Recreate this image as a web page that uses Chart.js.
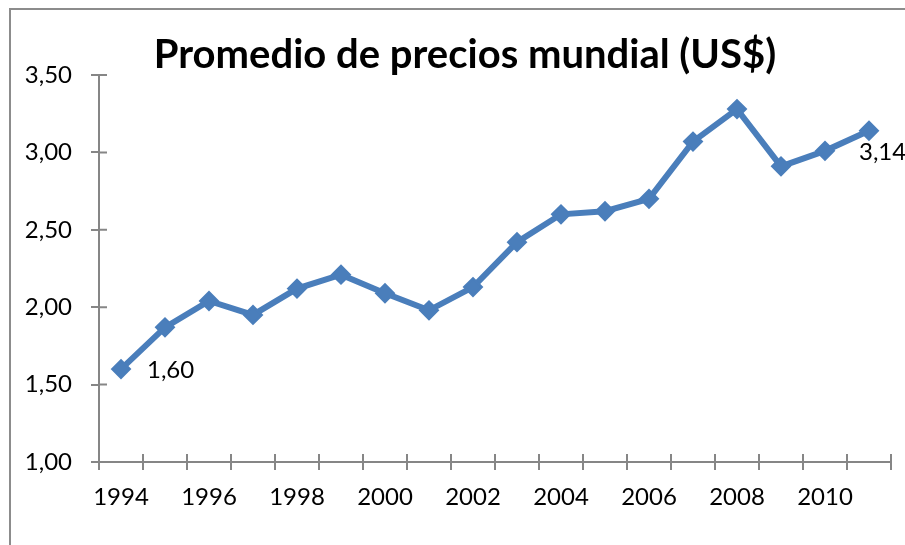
<!DOCTYPE html>
<html>
<head>
<meta charset="utf-8">
<script src="https://cdn.jsdelivr.net/npm/chart.js@4"></script>
<style>
    body { margin: 0; background: #fff; }
    #wrap { position: relative; width: 905px; height: 545px; overflow: hidden; }
    #frame { position: absolute; left: 9px; top: 8px; width: 1000px; height: 1000px; border: 2px solid #8c8c8c; box-sizing: border-box; }
    canvas { position: absolute; left: 0; top: 0; }
</style>
</head>
<body>
<div id="wrap">
    <div id="frame"></div>
    <canvas id="precioChart" width="905" height="545"></canvas>
</div>
<script>
const years = ['1994', '1995', '1996', '1997', '1998', '1999', '2000', '2001', '2002',
               '2003', '2004', '2005', '2006', '2007', '2008', '2009', '2010', '2011'];
const prices = [1.60, 1.87, 2.04, 1.95, 2.12, 2.21, 2.09, 1.98, 2.13,
                2.42, 2.60, 2.62, 2.70, 3.07, 3.28, 2.91, 3.01, 3.14];
const labeledYears = ['1994', '2011'];
const yTicks = [1.0, 1.5, 2.0, 2.5, 3.0, 3.5];
const chartTitle = 'Promedio de precios mundial (US$)';

const axisColor = '#868686';
const fontFamily = 'Lato, "Open Sans", sans-serif';

function formatComma(v) {
    return v.toFixed(2).replace('.', ',');
}

// title sits off-centre in the original, so draw it by hand
const titleText = {
    id: 'titleText',
    afterDraw(chart) {
        const ctx = chart.ctx;
        ctx.save();
        ctx.font = 'bold 40px ' + fontFamily;
        ctx.fillStyle = '#000';
        ctx.textAlign = 'center';
        ctx.textBaseline = 'alphabetic';
        ctx.fillText(chartTitle, 465, 68);
        ctx.restore();
    }
};

// inner half of the crossing tick marks (chart.js only draws the outer half)
const crossTicks = {
    id: 'crossTicks',
    afterDraw(chart) {
        const ctx = chart.ctx;
        const xs = chart.scales.x;
        const ys = chart.scales.y;
        ctx.save();
        ctx.strokeStyle = axisColor;
        ctx.lineWidth = 2;
        ctx.beginPath();
        yTicks.forEach(v => {
            const y = ys.getPixelForValue(v);
            ctx.moveTo(xs.left, y);
            ctx.lineTo(xs.left + 8, y);
        });
        const step = xs.getPixelForValue(1) - xs.getPixelForValue(0);
        for (let i = 0; i <= years.length; i++) {
            const x = xs.getPixelForValue(i) - step / 2;
            ctx.moveTo(x, ys.bottom);
            ctx.lineTo(x, ys.bottom - 8);
        }
        ctx.stroke();
        ctx.restore();
    }
};

const pointLabels = {
    id: 'pointLabels',
    afterDatasetsDraw(chart) {
        const ctx = chart.ctx;
        const meta = chart.getDatasetMeta(0);
        ctx.save();
        ctx.font = '24px ' + fontFamily;
        ctx.fillStyle = '#000';
        ctx.textBaseline = 'middle';
        ctx.textAlign = 'left';
        const first = meta.data[years.indexOf(labeledYears[0])];
        ctx.fillText(formatComma(prices[0]), first.x + 26, first.y + 1);
        const last = meta.data[years.indexOf(labeledYears[1])];
        ctx.fillText(formatComma(prices[prices.length - 1]), last.x - 10, last.y + 22);
        ctx.restore();
    }
};

const ctx = document.getElementById('precioChart').getContext('2d');
new Chart(ctx, {
    type: 'line',
    data: {
        labels: years,
        datasets: [{
            data: prices,
            borderColor: '#4A7EBB',
            backgroundColor: '#4A7EBB',
            borderWidth: 6,
            pointStyle: 'rectRot',
            pointRadius: 9,
            pointBorderWidth: 2,
            tension: 0
        }]
    },
    options: {
        responsive: false,
        animation: false,
        layout: { padding: { top: 75, left: 0, right: 14, bottom: 0 } },
        plugins: {
            legend: { display: false },
            tooltip: { enabled: false },
            title: { display: false }
        },
        scales: {
            x: {
                offset: true,
                afterFit: s => { s.height = 83; },
                grid: {
                    offset: true,
                    drawOnChartArea: false,
                    tickLength: 8,
                    color: axisColor,
                    lineWidth: 2
                },
                border: { color: axisColor, width: 2 },
                ticks: {
                    autoSkip: false,
                    maxRotation: 0,
                    padding: 13,
                    color: '#000',
                    font: { family: fontFamily, size: 24 },
                    callback: (v, i) => (i % 2 === 0 ? years[i] : '')
                }
            },
            y: {
                min: 1,
                max: 3.5,
                afterFit: s => { s.width = 99; },
                afterBuildTicks: s => { s.ticks = yTicks.map(v => ({ value: v })); },
                grid: {
                    drawOnChartArea: false,
                    tickLength: 8,
                    color: axisColor,
                    lineWidth: 2
                },
                border: { color: axisColor, width: 2 },
                ticks: {
                    padding: 19,
                    color: '#000',
                    font: { family: fontFamily, size: 24 },
                    callback: v => formatComma(v)
                }
            }
        }
    },
    plugins: [titleText, crossTicks, pointLabels]
});
</script>
</body>
</html>
